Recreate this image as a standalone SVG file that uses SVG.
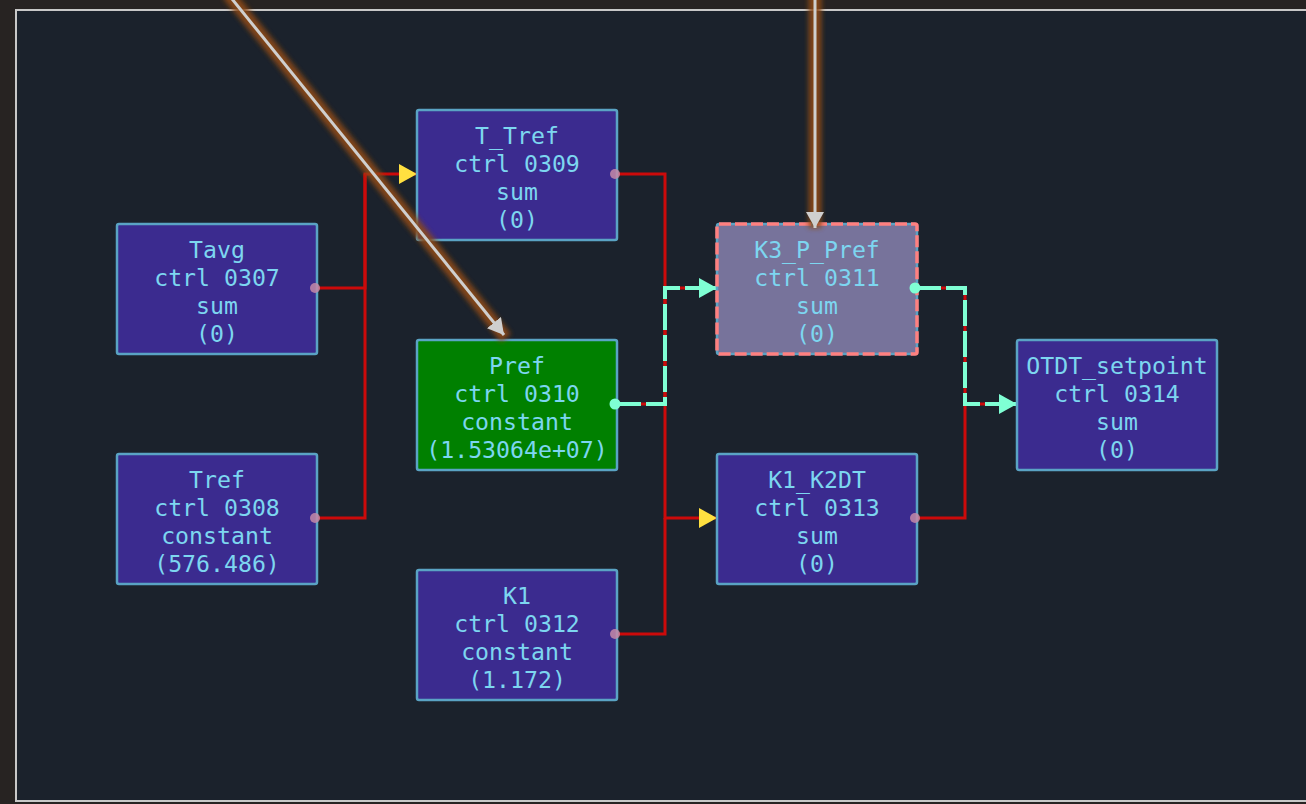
<svg xmlns="http://www.w3.org/2000/svg" width="1306" height="804" viewBox="0 0 1306 804">
<defs>
<style>
.node rect{fill:#3b2b8f;stroke:#5aa3c4;stroke-width:2.5}
.node text{font-family:"DejaVu Sans Mono","Liberation Mono",monospace;font-size:23.2px;fill:#7dd6f0;text-anchor:middle}
.red{fill:none;stroke:#cc0a0a;stroke-width:3}
.teal{fill:none;stroke:#7fffd4;stroke-width:4;stroke-dasharray:26 5}
.glow{fill:none;stroke:#8c4a18;stroke-width:13;filter:url(#blur);opacity:0.9}
.hl{fill:none;stroke:#cfcfcf;stroke-width:3}
</style>
<filter id="blur" filterUnits="userSpaceOnUse" x="0" y="-20" width="1306" height="844"><feGaussianBlur stdDeviation="2.5"/></filter>
<marker id="ay" viewBox="0 0 18 20" refX="18" refY="10" markerWidth="18" markerHeight="20" markerUnits="userSpaceOnUse" orient="auto"><path d="M0,0 L18,10 L0,20 Z" fill="#ffe040"/></marker>
<marker id="at" viewBox="0 0 18 20" refX="18" refY="10" markerWidth="18" markerHeight="20" markerUnits="userSpaceOnUse" orient="auto"><path d="M0,0 L18,10 L0,20 Z" fill="#7fffd4"/></marker>
<marker id="ag" viewBox="0 0 16 18" refX="16" refY="9" markerWidth="16" markerHeight="18" markerUnits="userSpaceOnUse" orient="auto"><path d="M0,0 L16,9 L0,18 Z" fill="#cfcfcf"/></marker>
</defs>
<rect x="0" y="0" width="1306" height="804" fill="#272322"/>
<rect x="16" y="10" width="1300" height="791" fill="#1b222c" stroke="#c8c8c8" stroke-width="2"/>

<g id="connectors">
<path class="red" d="M315,288 H365 V174 H399"/>
<path class="red" d="M315,518 H365 V174"/>
<path d="M399,174 H417" fill="none" stroke="#cc0a0a" stroke-width="3" marker-end="url(#ay)"/>
<path class="red" d="M615,174 H665 V518 H699"/>
<path class="red" d="M615,634 H665 V518"/>
<path d="M699,518 H717" fill="none" stroke="#cc0a0a" stroke-width="3" marker-end="url(#ay)"/>
<path class="red" d="M615,404 H665 V288 H717"/>
<path class="teal" d="M615,404 H665 V288 H699"/>
<path d="M699,288 H717" fill="none" stroke="#7fffd4" stroke-width="4" marker-end="url(#at)"/>
<path class="red" d="M915,518 H965 V404 H999"/>
<path class="red" d="M915,288 H965 V404"/>
<path class="teal" d="M915,288 H965 V404 H999"/>
<path d="M999,404 H1017" fill="none" stroke="#7fffd4" stroke-width="4" marker-end="url(#at)"/>
</g>

<g id="node-Tavg" class="node"><rect x="117" y="224" width="200" height="130" rx="2"/><text x="217" y="258">Tavg</text><text x="217" y="286">ctrl 0307</text><text x="217" y="314">sum</text><text x="217" y="342">(0)</text></g>
<g id="node-Tref" class="node"><rect x="117" y="454" width="200" height="130" rx="2"/><text x="217" y="488">Tref</text><text x="217" y="516">ctrl 0308</text><text x="217" y="544">constant</text><text x="217" y="572">(576.486)</text></g>
<g id="node-T_Tref" class="node"><rect x="417" y="110" width="200" height="130" rx="2"/><text x="517" y="144">T_Tref</text><text x="517" y="172">ctrl 0309</text><text x="517" y="200">sum</text><text x="517" y="228">(0)</text></g>
<g id="node-Pref" class="node"><rect x="417" y="340" width="200" height="130" rx="2" style="fill:#008000"/><text x="517" y="374">Pref</text><text x="517" y="402">ctrl 0310</text><text x="517" y="430">constant</text><text x="517" y="458">(1.53064e+07)</text></g>
<g id="node-K1" class="node"><rect x="417" y="570" width="200" height="130" rx="2"/><text x="517" y="604">K1</text><text x="517" y="632">ctrl 0312</text><text x="517" y="660">constant</text><text x="517" y="688">(1.172)</text></g>
<g id="node-K3_P_Pref" class="node"><rect x="717" y="224" width="200" height="130" rx="2" style="fill:#77739b;stroke:#5aa3c4"/><rect x="717" y="224" width="200" height="130" rx="2" style="fill:none;stroke:#ff8080;stroke-width:3.5;stroke-dasharray:12 4"/><text x="817" y="258">K3_P_Pref</text><text x="817" y="286">ctrl 0311</text><text x="817" y="314">sum</text><text x="817" y="342">(0)</text></g>
<g id="node-K1_K2DT" class="node"><rect x="717" y="454" width="200" height="130" rx="2"/><text x="817" y="488">K1_K2DT</text><text x="817" y="516">ctrl 0313</text><text x="817" y="544">sum</text><text x="817" y="572">(0)</text></g>
<g id="node-OTDT_setpoint" class="node"><rect x="1017" y="340" width="200" height="130" rx="2"/><text x="1117" y="374">OTDT_setpoint</text><text x="1117" y="402">ctrl 0314</text><text x="1117" y="430">sum</text><text x="1117" y="458">(0)</text></g>

<g id="ports">
<circle cx="315" cy="288" r="5" fill="#c58aa8" fill-opacity="0.85"/>
<circle cx="315" cy="518" r="5" fill="#c58aa8" fill-opacity="0.85"/>
<circle cx="615" cy="174" r="5" fill="#c58aa8" fill-opacity="0.85"/>
<circle cx="615" cy="634" r="5" fill="#c58aa8" fill-opacity="0.85"/>
<circle cx="915" cy="518" r="5" fill="#c58aa8" fill-opacity="0.85"/>
<circle cx="615" cy="404" r="5.5" fill="#7fffd4"/>
<circle cx="915" cy="288" r="5.5" fill="#7fffd4"/>
</g>

<g id="highlight-connectors">
<path class="glow" d="M228,-6 L506,338"/>
<path class="hl" d="M228,-6 L504,335" marker-end="url(#ag)"/>
<path class="glow" d="M815,-6 V228"/>
<path class="hl" d="M815,-6 V228" marker-end="url(#ag)"/>
</g>
</svg>
